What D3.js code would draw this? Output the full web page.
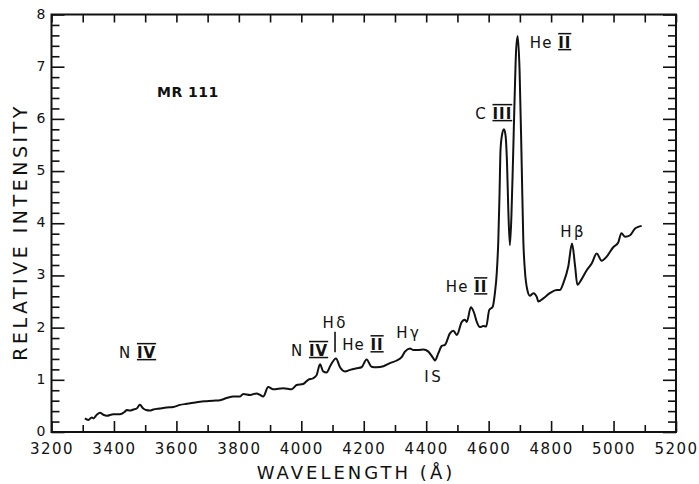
<!DOCTYPE html>
<html><head><meta charset="utf-8">
<script src="https://cdn.jsdelivr.net/npm/d3@7"></script>
<style>
html,body{margin:0;padding:0;background:#fff;}
svg text{font-family:"DejaVu Sans",sans-serif;fill:#111;}
</style></head>
<body><svg id="c" width="699" height="484"></svg>
<script>
// ---- data ----
const wavelength = [3307,3318,3329,3334,3345,3355,3366,3377,3398,3419,3435,3441,3451,3462,3473,3483,3494,3503,3515,3526,3547,3569,3590,3612,3633,3654,3676,3697,3718,3740,3761,3782,3804,3814,3836,3857,3868,3878,3894,3910,3942,3969,3985,4006,4022,4038,4049,4060,4070,4081,4094,4111,4124,4140,4156,4177,4193,4209,4225,4241,4263,4284,4306,4322,4332,4348,4359,4375,4391,4407,4423,4428,4439,4450,4460,4476,4487,4498,4514,4524,4530,4543,4553,4562,4572,4583,4592,4602,4613,4620,4626,4631,4635,4638,4643,4649,4654,4659,4663,4668,4673,4678,4683,4688,4693,4699,4706,4711,4716,4724,4732,4743,4754,4759,4775,4796,4818,4828,4839,4855,4867,4877,4884,4898,4914,4930,4946,4962,4978,4999,5015,5025,5037,5053,5069,5079,5090];
const intensity = [0.26,0.23,0.28,0.26,0.33,0.37,0.33,0.31,0.34,0.34,0.39,0.42,0.41,0.43,0.45,0.52,0.45,0.42,0.41,0.43,0.45,0.47,0.48,0.52,0.54,0.56,0.58,0.59,0.60,0.61,0.65,0.68,0.68,0.73,0.71,0.74,0.71,0.68,0.86,0.82,0.84,0.82,0.90,0.92,1.00,1.03,1.09,1.30,1.16,1.14,1.28,1.41,1.24,1.16,1.19,1.22,1.24,1.39,1.25,1.24,1.26,1.32,1.37,1.44,1.54,1.60,1.57,1.57,1.58,1.54,1.41,1.37,1.51,1.65,1.67,1.89,1.94,1.86,2.11,2.15,2.11,2.39,2.29,2.11,2.01,2.03,2.02,2.34,2.40,2.66,3.05,3.68,4.6,5.40,5.70,5.80,5.69,5.12,4.25,3.58,4.16,5.21,6.36,7.32,7.59,6.94,5.08,3.68,3.10,2.72,2.61,2.66,2.59,2.50,2.56,2.66,2.72,2.72,2.85,3.17,3.61,3.17,2.82,2.93,3.10,3.23,3.42,3.28,3.36,3.54,3.63,3.81,3.74,3.77,3.90,3.93,3.95];
const xMajorTicks = [3200,3400,3600,3800,4000,4200,4400,4600,4800,5000,5200];
const xMinorTicks = [3300,3500,3700,3900,4100,4300,4500,4700,4900,5100];
const yMajorTicks = [0,1,2,3,4,5,6,7,8];
const yMinorTicks = d3.range(1,40).filter(i=>i%5!==0).map(i=>i/5);
const title = "MR 111";
// line identifications: [prefix, roman numeral, wavelength, intensity of label anchor]
const lineLabels = [
  ["He ", "II", 4732, 7.36],
  ["C ", "III", 4557, 6.0],
  ["Hβ", "", 4829, 3.74],
  ["He ", "II", 4463, 2.68],
  ["Hδ", "", 4068, 1.99],
  ["N ", "IV", 3967, 1.46],
  ["He ", "II", 4131, 1.57],
  ["Hγ", "", 4304, 1.80],
  ["IS", "", 4394, 0.96],
  ["N ", "IV", 3416, 1.42]
];
const hDeltaMark = {wl:4108, from:1.53, to:1.92};

// ---- chart ----
const svg = d3.select("#c");
const x = d3.scaleLinear().domain([3200,5200]).range([51.5,676]);
const y = d3.scaleLinear().domain([0,8]).range([432,14.5]);
const H = 432, T = 14.5, L = 51.5, R = 676;

function styleAxis(g){ g.select(".domain").remove(); g.selectAll(".tick line").attr("stroke","#111").attr("stroke-width",1.6); }

svg.append("g").attr("transform",`translate(0,${H})`)
  .call(d3.axisBottom(x).tickValues(xMajorTicks).tickSizeInner(-11).tickSizeOuter(0).tickPadding(11).tickFormat(d3.format("d")))
  .call(styleAxis)
  .selectAll("text").style("font-size","15px").attr("letter-spacing","1.5px");
svg.append("g").attr("transform",`translate(0,${H})`)
  .call(d3.axisBottom(x).tickValues(xMinorTicks).tickSizeInner(-7).tickSizeOuter(0).tickFormat(""))
  .call(styleAxis);
svg.append("g").attr("transform",`translate(0,${T})`)
  .call(d3.axisTop(x).tickValues(xMajorTicks.concat(xMinorTicks)).tickSizeInner(-8).tickSizeOuter(0).tickFormat(""))
  .call(styleAxis);

svg.append("g").attr("transform",`translate(${L},0)`)
  .call(d3.axisLeft(y).tickValues(yMajorTicks).tickSizeInner(-13).tickSizeOuter(0).tickPadding(6).tickFormat(d3.format("d")))
  .call(styleAxis)
  .selectAll("text").style("font-size","14px").attr("dy","0.25em");
svg.append("g").attr("transform",`translate(${L},0)`)
  .call(d3.axisLeft(y).tickValues(yMinorTicks).tickSizeInner(-8).tickSizeOuter(0).tickFormat(""))
  .call(styleAxis);
svg.append("g").attr("transform",`translate(${R},0)`)
  .call(d3.axisRight(y).tickValues(yMajorTicks).tickSizeInner(-13).tickSizeOuter(0).tickFormat(""))
  .call(styleAxis);
svg.append("g").attr("transform",`translate(${R},0)`)
  .call(d3.axisRight(y).tickValues(yMinorTicks).tickSizeInner(-8).tickSizeOuter(0).tickFormat(""))
  .call(styleAxis);

svg.append("rect").attr("x",L).attr("y",T).attr("width",R-L).attr("height",H-T)
  .attr("fill","none").attr("stroke","#111").attr("stroke-width",2);

const pts = wavelength.map((w,i)=>[w,intensity[i]]);
svg.append("path").datum(pts)
  .attr("fill","none").attr("stroke","#111").attr("stroke-width",2).attr("stroke-linejoin","round")
  .attr("d", d3.line().x(d=>x(d[0])).y(d=>y(d[1])).curve(d3.curveMonotoneX));

// titles
svg.append("text").attr("transform","translate(27,232) rotate(-90)").attr("text-anchor","middle")
  .style("font-size","19px").attr("letter-spacing","3.5px").text("RELATIVE INTENSITY");
svg.append("text").attr("x",356).attr("y",479).attr("text-anchor","middle")
  .style("font-size","18px").attr("letter-spacing","3px").text("WAVELENGTH (Å)");

svg.append("text").attr("x",x(3538)).attr("y",y(6.42)).style("font-size","14px").style("font-weight","bold")
  .attr("letter-spacing","0.5px").text(title);

// line labels
lineLabels.forEach(([pre,rom,wl,iv])=>{
  const t = svg.append("text").attr("x",x(wl)).attr("y",y(iv)).style("font-size","15px")
    .attr("letter-spacing", rom ? "1px" : "2.5px");
  t.append("tspan").text(pre);
  if(rom) t.append("tspan").style("text-decoration","underline overline").style("font-weight","bold").text(rom);
});
svg.append("line").attr("x1",x(hDeltaMark.wl)).attr("x2",x(hDeltaMark.wl))
  .attr("y1",y(hDeltaMark.from)).attr("y2",y(hDeltaMark.to)).attr("stroke","#111").attr("stroke-width",1.6);
</script></body></html>
